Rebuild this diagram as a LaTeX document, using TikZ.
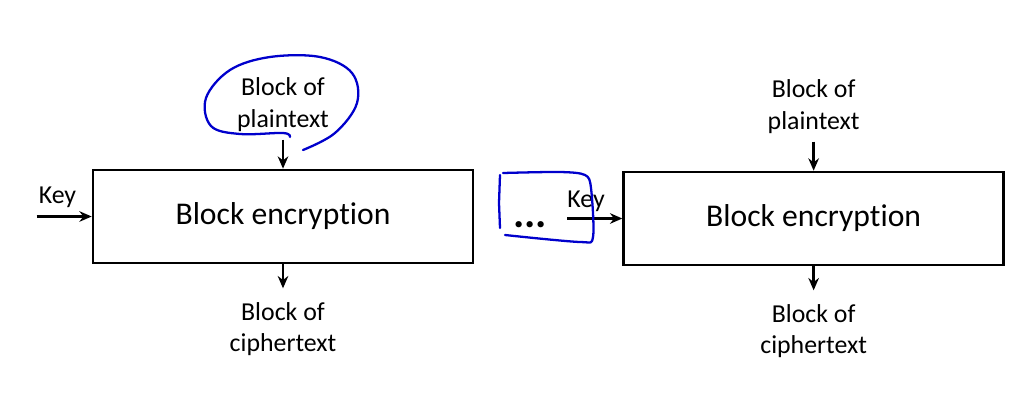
\documentclass[tikz,border=0pt]{standalone}
\usepackage{fontspec}
\setmainfont{Carlito}[Ligatures=NoCommon]
\usetikzlibrary{arrows.meta, positioning, calc}

\begin{document}
\begin{tikzpicture}[
    block/.style={rectangle, draw=black, line width=1.5pt, minimum width=7.6cm, minimum height=1.86cm, font=\fontsize{18}{21}\selectfont},
    txt/.style={align=center, font=\fontsize{14.7}{18}\selectfont, inner sep=1pt},
    arr/.style={line width=1.5pt, -{Stealth[length=7pt, width=6pt]}},
    scribble/.style={draw=blue!80!black, line width=1.3pt, line cap=round, line join=round}
  ]
    \useasboundingbox (0,0) rectangle (20.52,8.36);

    % --- Encryption blocks ---
    \node[block] (enc1) at (5.66,4.03) {Block encryption};
    \node[block, right=2.96cm of enc1, yshift=-0.04cm] (enc2) {Block encryption};

    % --- Inputs and outputs ---
    \node[txt, above=0.70cm of enc1] (plain1) {Block of\\plaintext};
    \node[txt, below=0.72cm of enc1] (cipher1) {Block of\\ciphertext};
    \node[txt, above=0.70cm of enc2] (plain2) {Block of\\plaintext};
    \node[txt, below=0.72cm of enc2] (cipher2) {Block of\\ciphertext};

    \coordinate[left=1.1cm of enc1.west] (key1);
    \coordinate[left=1.1cm of enc2.west] (key2);
    \node[txt, above right=0.14cm and 0.0cm of key1] (keytxt1) {Key};
    \node[txt, above right=0.1cm and -0.04cm of key2] (keytxt2) {Key};
    \node[font=\fontsize{24}{24}\selectfont\bfseries, left=0.28cm of key2, yshift=-0.12cm] (dots) {...};

    % --- Arrows ---
    \draw[arr] ([yshift=-0.12cm]plain1.south) -- (enc1.north);
    \draw[arr] (enc1.south) -- ([yshift=0.24cm]cipher1.north);
    \draw[arr] ([yshift=-0.12cm]plain2.south) -- (enc2.north);
    \draw[arr] (enc2.south) -- ([yshift=0.24cm]cipher2.north);
    \draw[arr] (key1) -- (enc1.west);
    \draw[arr] (key2) -- (enc2.west);

    % --- Hand-drawn marks ---
    \draw[scribble] plot[smooth, tension=0.6] coordinates {(6.06,5.36) (6.70,5.70) (7.14,6.30) (7.04,6.90) (6.40,7.22) (5.40,7.22) (4.60,6.96) (4.12,6.40) (4.22,5.84) (4.80,5.68) (5.66,5.70) (5.80,5.62)};
    \draw[scribble] (10.00,4.86) -- (9.98,4.30) -- (10.00,3.80);
    \draw[scribble] plot[smooth, tension=0.5] coordinates {(10.06,4.90) (11.20,4.92) (11.70,4.86) (11.82,4.60) (11.86,3.62) (11.60,3.52) (10.10,3.66)};
  \end{tikzpicture}
\end{document}
